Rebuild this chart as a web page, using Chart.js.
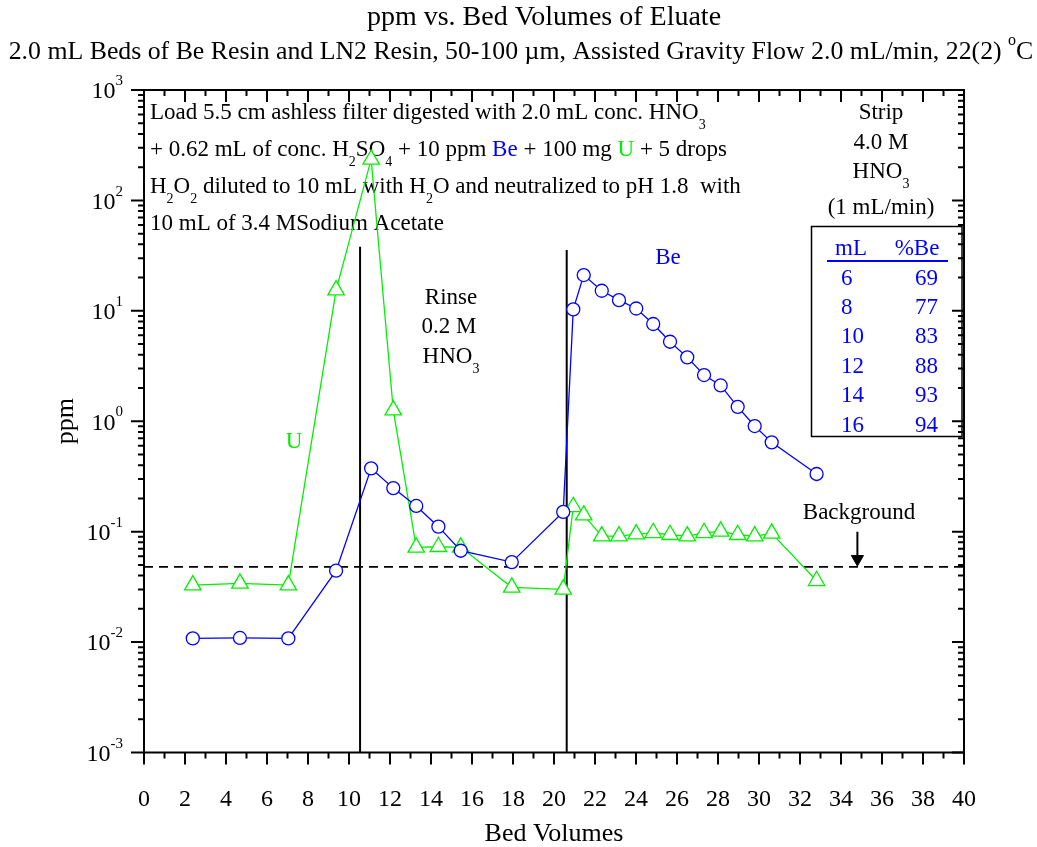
<!DOCTYPE html>
<html>
<head>
<meta charset="utf-8">
<script src="https://cdn.jsdelivr.net/npm/chart.js@4.4.0/dist/chart.umd.min.js"></script>
<style>
  html, body { margin: 0; padding: 0; background: #fff; }
  #wrap { width: 1037px; height: 847px; position: relative; }
</style>
</head>
<body>
<div id="wrap"><canvas id="chart"></canvas></div>
<script>
// bed volumes shared by both series
const bedVolumes = [2.38, 4.68, 7.04, 9.37, 11.08, 12.16, 13.28, 14.36, 15.45, 17.94, 20.45,
  20.94, 21.45, 22.33, 23.17, 24.01, 24.84, 25.66, 26.50, 27.32, 28.13, 28.96, 29.79, 30.62, 32.81];
const ppmBe = [0.0108, 0.0109, 0.0108, 0.0443, 0.374, 0.248, 0.171, 0.111, 0.0672, 0.053, 0.151,
  10.3, 21.1, 15.2, 12.5, 10.5, 7.6, 5.25, 3.79, 2.62, 2.11, 1.35, 0.905, 0.644, 0.333];
const ppmU = [0.0328, 0.034, 0.0328, 15.4, 235, 1.26, 0.0721, 0.073, 0.0721, 0.0313, 0.030,
  0.168, 0.141, 0.0912, 0.0912, 0.0951, 0.0977, 0.0938, 0.0912, 0.0977, 0.1007, 0.0938, 0.0912, 0.0966, 0.0359];

const rinseStart = 10.54;
const rinseTop = 38;
const stripStart = 20.62;
const stripTop = 35.5;
const backgroundPpm = 0.048;
const arrowFrom = 0.1, arrowTo = 0.0565, arrowX = 34.8;

const xMin = 0, xMax = 40, xStep = 2;
const yDecades = [-3, -2, -1, 0, 1, 2, 3];

const stripML = [6, 8, 10, 12, 14, 16];
const stripPctBe = [69, 77, 83, 88, 93, 94];

const SERIF = '"Liberation Serif", "Times New Roman", serif';
const BLUE = '#0000ff';
const GREEN = '#00f000';

function rich(ctx, x, y, parts, size, align, color) {
  const small = Math.round(size * 0.62);
  let w = 0;
  const items = parts.map(p => {
    const kind = p[1] || '';
    const fs = kind ? small : size;
    ctx.font = fs + 'px ' + SERIF;
    const pw = ctx.measureText(p[0]).width;
    w += pw;
    return { t: p[0], kind, fs, pw, c: p[2] || color || '#000' };
  });
  let cx = align === 'center' ? x - w / 2 : align === 'right' ? x - w : x;
  ctx.textAlign = 'left';
  ctx.textBaseline = 'middle';
  items.forEach(it => {
    ctx.font = it.fs + 'px ' + SERIF;
    ctx.fillStyle = it.c;
    const dy = it.kind === 'sub' ? size * 0.52 : it.kind === 'sup' ? -size * 0.45 : 0;
    ctx.fillText(it.t, cx, y + dy);
    cx += it.pw;
  });
}

const notes = {
  id: 'notes',
  beforeDatasetsDraw(chart) {
    const ctx = chart.ctx;
    ctx.save();
    const s = 23;
    rich(ctx, 150, 113, [['Load 5.5 cm ashless filter digested with 2.0 mL conc. HNO'], ['3', 'sub']], s, 'left');
    rich(ctx, 150, 150, [['+ 0.62 mL of conc. H'], ['2', 'sub'], ['SO'], ['4', 'sub'], [' + 10 ppm '],
      ['Be', '', BLUE], [' + 100 mg '], ['U', '', GREEN], [' + 5 drops']], s, 'left');
    rich(ctx, 150, 187, [['H'], ['2', 'sub'], ['O'], ['2', 'sub'], [' diluted to 10 mL with H'], ['2', 'sub'],
      ['O and neutralized to pH 1.8  with']], s, 'left');
    rich(ctx, 150, 224, [['10 mL of 3.4 MSodium Acetate']], s, 'left');

    rich(ctx, 881, 113, [['Strip']], s, 'center');
    rich(ctx, 881, 143, [['4.0 M']], s, 'center');
    rich(ctx, 881, 172, [['HNO'], ['3', 'sub']], s, 'center');
    rich(ctx, 881, 208, [['(1 mL/min)']], s, 'center');

    rich(ctx, 451, 298, [['Rinse']], s, 'center');
    rich(ctx, 449, 327, [['0.2 M']], s, 'center');
    rich(ctx, 451, 357, [['HNO'], ['3', 'sub']], s, 'center');

    rich(ctx, 294, 442, [['U']], s, 'center', GREEN);
    rich(ctx, 668, 258, [['Be']], s, 'center', BLUE);
    rich(ctx, 859, 513, [['Background']], s, 'center');

    // strip table
    ctx.strokeStyle = '#000';
    ctx.lineWidth = 1.5;
    ctx.strokeRect(811.5, 226.5, 150.5, 210);
    rich(ctx, 851, 249, [['mL']], s, 'center', BLUE);
    rich(ctx, 917, 249, [['%Be']], s, 'center', BLUE);
    ctx.strokeStyle = BLUE;
    ctx.lineWidth = 2;
    ctx.beginPath();
    ctx.moveTo(827, 261);
    ctx.lineTo(948, 261);
    ctx.stroke();
    stripML.forEach((v, i) => {
      const y = 278.5 + i * 29.4;
      rich(ctx, 841, y, [[String(v)]], s, 'left', BLUE);
      rich(ctx, 938, y, [[String(stripPctBe[i])]], s, 'right', BLUE);
    });
    ctx.restore();
  },
  afterDraw(chart) {
    const ctx = chart.ctx;
    const a = chart.chartArea;
    const xs = chart.scales.x, ys = chart.scales.y;
    ctx.save();
    ctx.strokeStyle = '#000';
    ctx.lineWidth = 2;
    ctx.beginPath();
    // x ticks: bottom outward, top inward
    for (let v = xMin; v <= xMax; v++) {
      const p = xs.getPixelForValue(v);
      const len = v % xStep === 0 ? 12 : 6;
      ctx.moveTo(p, a.bottom); ctx.lineTo(p, a.bottom + len);
      ctx.moveTo(p, a.top); ctx.lineTo(p, a.top + len);
    }
    // y ticks: left outward, right inward
    yDecades.forEach(e => {
      const p = ys.getPixelForValue(Math.pow(10, e));
      ctx.moveTo(a.left - 13, p); ctx.lineTo(a.left, p);
      ctx.moveTo(a.right - 12, p); ctx.lineTo(a.right, p);
      if (e < 3) {
        for (let m = 2; m <= 9; m++) {
          const q = ys.getPixelForValue(m * Math.pow(10, e));
          ctx.moveTo(a.left - 6, q); ctx.lineTo(a.left, q);
          ctx.moveTo(a.right - 6, q); ctx.lineTo(a.right, q);
        }
      }
    });
    ctx.stroke();
    ctx.strokeRect(a.left, a.top, a.right - a.left, a.bottom - a.top);

    // y tick labels 10^n
    yDecades.forEach(e => {
      const p = ys.getPixelForValue(Math.pow(10, e));
      rich(ctx, 123, p + 2, [['10'], [String(e), 'sup']], 24, 'right');
    });

    // titles
    rich(ctx, 544, 18, [['ppm vs. Bed Volumes of Eluate']], 28, 'center');
    rich(ctx, 521, 52, [['2.0 mL Beds of Be Resin and LN2 Resin, 50-100 \u00b5m, Assisted Gravity Flow 2.0 mL/min, 22(2) '],
      ['o', 'sup'], ['C']], 25.8, 'center');
    ctx.restore();
  }
};

new Chart(document.getElementById('chart').getContext('2d'), {
  type: 'line',
  data: {
    datasets: [
      {
        label: 'Be',
        data: bedVolumes.map((x, i) => ({ x, y: ppmBe[i] })),
        borderColor: BLUE,
        borderWidth: 1.3,
        pointStyle: 'circle',
        pointRadius: 6.5,
        pointBorderWidth: 1.3,
        pointBorderColor: BLUE,
        pointBackgroundColor: '#fff'
      },
      {
        label: 'U',
        data: bedVolumes.map((x, i) => ({ x, y: ppmU[i] })),
        borderColor: GREEN,
        borderWidth: 1.3,
        pointStyle: 'triangle',
        pointRadius: 9.5,
        pointBorderWidth: 1.3,
        pointBorderColor: GREEN,
        pointBackgroundColor: '#fff'
      },
      {
        label: 'background',
        data: [{ x: xMin, y: backgroundPpm }, { x: xMax, y: backgroundPpm }],
        borderColor: '#000',
        borderWidth: 1.6,
        borderDash: [9, 6],
        pointRadius: 0
      },
      {
        label: 'rinse',
        data: [{ x: rinseStart, y: 0.001 }, { x: rinseStart, y: rinseTop }],
        borderColor: '#000',
        borderWidth: 2,
        pointRadius: 0
      },
      {
        label: 'strip',
        data: [{ x: stripStart, y: 0.001 }, { x: stripStart, y: stripTop }],
        borderColor: '#000',
        borderWidth: 2,
        pointRadius: 0
      },
      {
        label: 'arrow',
        data: [{ x: arrowX, y: arrowFrom }, { x: arrowX, y: arrowTo }],
        borderColor: '#000',
        borderWidth: 2,
        pointStyle: 'triangle',
        pointRotation: 180,
        pointRadius: [0, 7],
        pointBorderWidth: 1,
        pointBorderColor: '#000',
        pointBackgroundColor: '#000'
      }
    ]
  },
  options: {
    responsive: true,
    maintainAspectRatio: false,
    animation: false,
    layout: { padding: { top: 90, right: 73, left: 0, bottom: 0 } },
    plugins: {
      legend: { display: false },
      tooltip: { enabled: false },
      title: { display: false }
    },
    scales: {
      x: {
        type: 'linear',
        min: xMin,
        max: xMax,
        grid: { display: false, drawTicks: false },
        border: { display: false },
        ticks: {
          stepSize: xStep,
          autoSkip: false,
          maxRotation: 0,
          padding: 33,
          color: '#000',
          font: { family: SERIF, size: 24 }
        },
        title: {
          display: true,
          text: 'Bed Volumes',
          color: '#000',
          font: { family: SERIF, size: 26, lineHeight: 1 },
          padding: { top: 0, bottom: 0 }
        },
        afterFit(scale) { scale.height = 94.5; }
      },
      y: {
        type: 'logarithmic',
        min: 0.001,
        max: 1000,
        grid: { display: false, drawTicks: false },
        border: { display: false },
        ticks: { display: false },
        title: {
          display: true,
          text: 'ppm',
          color: '#000',
          font: { family: SERIF, size: 26, lineHeight: 1 },
          padding: { top: 53, bottom: 0 }
        },
        afterFit(scale) { scale.width = 144; }
      }
    }
  },
  plugins: [notes]
});
</script>
</body>
</html>
